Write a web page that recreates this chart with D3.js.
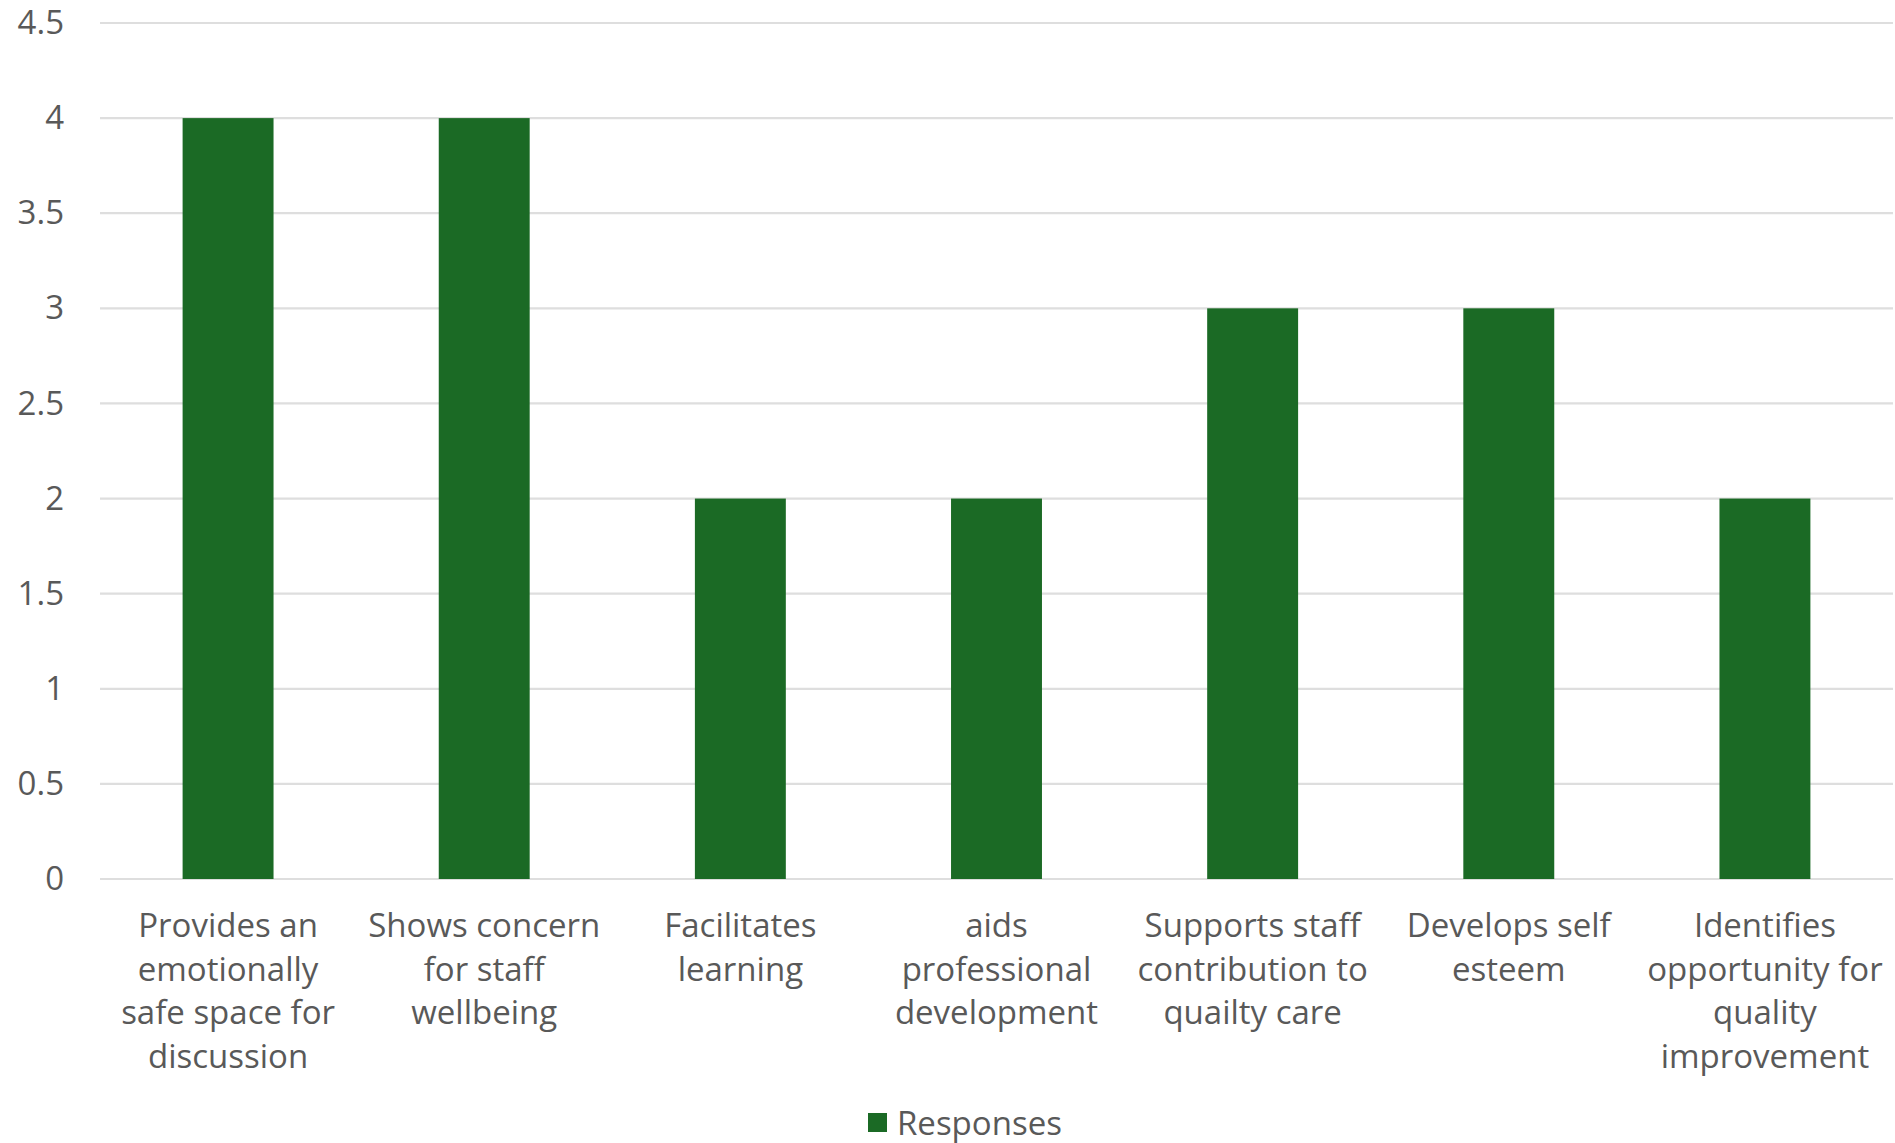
<!DOCTYPE html>
<html>
<head>
<meta charset="utf-8">
<script src="https://cdn.jsdelivr.net/npm/d3@7"></script>
<style>
  html, body { margin: 0; padding: 0; background: #fff; }
  svg text { font-family: "Open Sans", "Liberation Sans", sans-serif; fill: #595959; }
</style>
</head>
<body>
<svg id="chart" width="1895" height="1143"></svg>
<script>
// Survey answers per category
const categories = [
  "Provides an emotionally safe space for discussion",
  "Shows concern for staff wellbeing",
  "Facilitates learning",
  "aids professional development",
  "Supports staff contribution to quailty care",
  "Develops self esteem",
  "Identifies opportunity for quality improvement"
];
const categoryLines = [
  ["Provides an", "emotionally", "safe space for", "discussion"],
  ["Shows concern", "for staff", "wellbeing"],
  ["Facilitates", "learning"],
  ["aids", "professional", "development"],
  ["Supports staff", "contribution to", "quailty care"],
  ["Develops self", "esteem"],
  ["Identifies", "opportunity for", "quality", "improvement"]
];
const responses = [4, 4, 2, 2, 3, 3, 2];
const yTicks = [0, 0.5, 1, 1.5, 2, 2.5, 3, 3.5, 4, 4.5];
const seriesName = "Responses";

const svg = d3.select("#chart");
const margin = { top: 23, right: 2, bottom: 264, left: 100 };
const W = 1895, H = 1143;
const plotW = W - margin.left - margin.right;
const plotH = H - margin.top - margin.bottom;
const fontSize = 33;
const barColor = "#1b6a25";

const x = d3.scaleBand().domain(categories).range([0, plotW]).paddingInner(0.645).paddingOuter(0.3225);
const y = d3.scaleLinear().domain([0, 4.5]).range([plotH, 0]);

const g = svg.append("g").attr("transform", `translate(${margin.left},${margin.top})`);

// horizontal gridlines
g.append("g")
  .selectAll("line")
  .data(yTicks)
  .join("line")
  .attr("x1", 0).attr("x2", plotW)
  .attr("y1", d => y(d)).attr("y2", d => y(d))
  .attr("stroke", "#dedede")
  .attr("stroke-width", 2.2);

// y axis labels
const yAxis = g.append("g")
  .call(d3.axisLeft(y).tickValues(yTicks).tickSize(0).tickPadding(36).tickFormat(d3.format("")));
yAxis.select(".domain").remove();
yAxis.selectAll("text")
  .style("font-size", fontSize + "px")
  .attr("fill", "#595959");

// bars
g.append("g")
  .selectAll("rect")
  .data(categories)
  .join("rect")
  .attr("x", d => x(d))
  .attr("width", x.bandwidth())
  .attr("y", (d, i) => y(responses[i]))
  .attr("height", (d, i) => plotH - y(responses[i]))
  .attr("fill", barColor);

// category labels, wrapped over several lines
const lineH = 43.7;
const xLabels = g.append("g").attr("transform", `translate(0,${plotH})`);
categories.forEach((c, i) => {
  const t = xLabels.append("text")
    .attr("text-anchor", "middle")
    .attr("x", x(c) + x.bandwidth() / 2)
    .attr("y", 58)
    .style("font-size", fontSize + "px");
  categoryLines[i].forEach((ln, j) => {
    t.append("tspan")
      .attr("x", x(c) + x.bandwidth() / 2)
      .attr("dy", j === 0 ? 0 : lineH)
      .text(ln);
  });
});

// legend
const legend = svg.append("g").attr("transform", "translate(868,1113)");
legend.append("rect").attr("width", 19).attr("height", 19).attr("fill", barColor);
legend.append("text")
  .attr("x", 29).attr("y", 9.5)
  .attr("dominant-baseline", "central")
  .style("font-size", fontSize + "px")
  .text(seriesName);
</script>
</body>
</html>
